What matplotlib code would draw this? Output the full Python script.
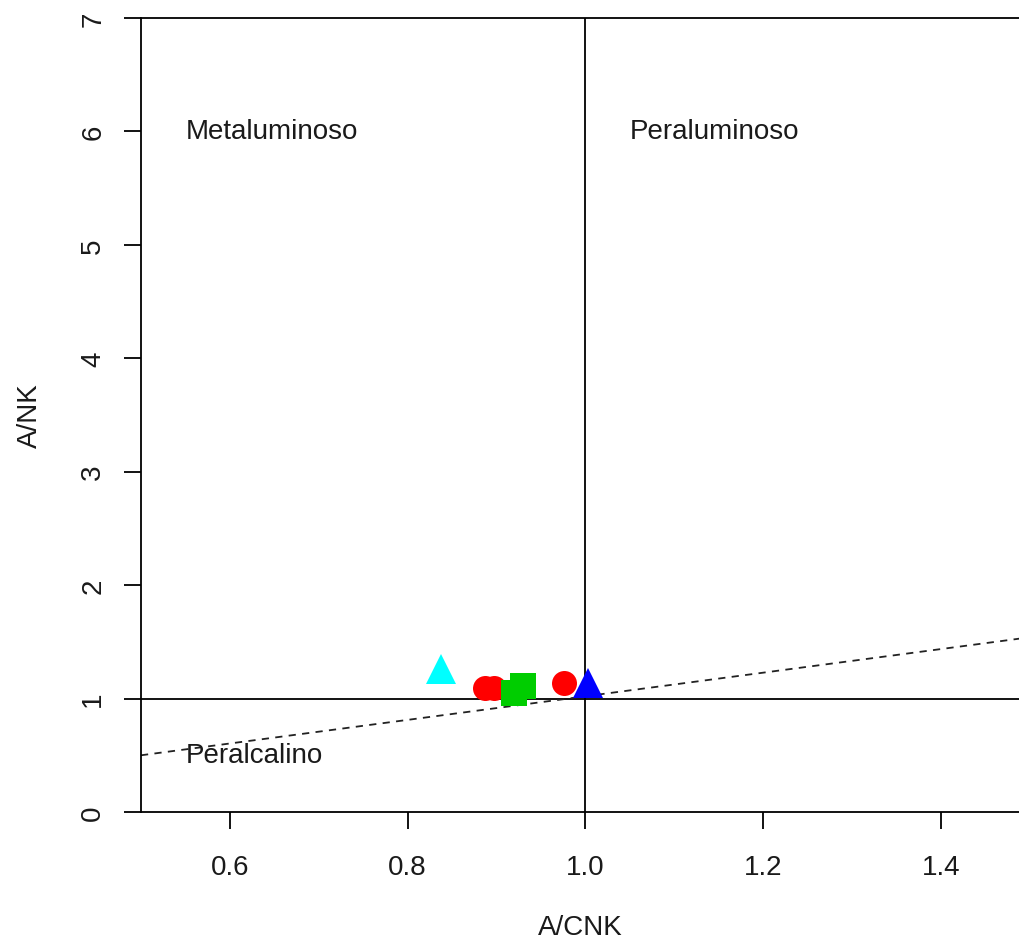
import matplotlib.pyplot as plt

plt.rcParams['font.family'] = ['Liberation Sans', 'DejaVu Sans']

# datos de las muestras (A/CNK, A/NK)
grupos = ['cian', 'rojo', 'verde', 'azul']
acnk = {'cian': [0.837], 'rojo': [0.887, 0.897, 0.976], 'verde': [0.920, 0.930], 'azul': [1.003]}
anK = {'cian': [1.26], 'rojo': [1.09, 1.09, 1.14], 'verde': [1.045, 1.115], 'azul': [1.14]}
colores = {'cian': '#00FFFF', 'rojo': '#FF0000', 'verde': '#00CD00', 'azul': '#0000FF'}
marcadores = {'cian': '^', 'rojo': 'o', 'verde': 's', 'azul': '^'}
tamanos = {'cian': 21, 'rojo': 18, 'verde': 19, 'azul': 21}

# linea discontinua
linea_x = [0.5, 1.49]
linea_y = [0.50, 1.53]

xticks = [0.6, 0.8, 1.0, 1.2, 1.4]
yticks = [0, 1, 2, 3, 4, 5, 6, 7]

texto = '#1a1a1a'

fig = plt.figure(figsize=(10.2, 9.45), dpi=100)
ax = fig.add_axes([141 / 1020, 132 / 945, 1 - 141 / 1020, (813 - 19) / 945])
ax.set_xlim(0.5, 0.5 + (1020 - 141) / 888.75)
ax.set_ylim(0, 7)

ax.axhline(1, color='black', lw=1.3)
ax.axvline(1, color='black', lw=1.3)
ax.plot(linea_x, linea_y, color='#222222', lw=1.3, dashes=[4, 3.5])

for g in grupos:
    ax.plot(acnk[g], anK[g], linestyle='none', marker=marcadores[g],
            color=colores[g], markersize=tamanos[g], markeredgewidth=0, clip_on=False)

ax.text(0.55, 6, 'Metaluminoso', fontsize=20, va='center', ha='left', color=texto)
ax.text(1.05, 6, 'Peraluminoso', fontsize=20, va='center', ha='left', color=texto)
ax.text(0.55, 0.5, 'Peralcalino', fontsize=20, va='center', ha='left', color=texto)

ax.spines['right'].set_visible(False)
for s in ['left', 'bottom', 'top']:
    ax.spines[s].set_linewidth(1.3)

ax.set_xticks(xticks)
ax.set_xticklabels(['0.6', '0.8', '1.0', '1.2', '1.4'])
ax.set_yticks(yticks)
ax.set_yticklabels([str(v) for v in yticks], rotation=90, va='center')
ax.tick_params(axis='x', direction='out', length=12, width=1.3, labelsize=20, pad=18,
               labelcolor=texto)
ax.tick_params(axis='y', direction='out', length=12, width=1.3, labelsize=20, pad=13,
               labelcolor=texto)

ax.set_xlabel('A/CNK', fontsize=20, labelpad=25, color=texto)
ax.set_ylabel('A/NK', fontsize=20, labelpad=27, color=texto)

plt.savefig('out.png', dpi=100)
plt.close()
